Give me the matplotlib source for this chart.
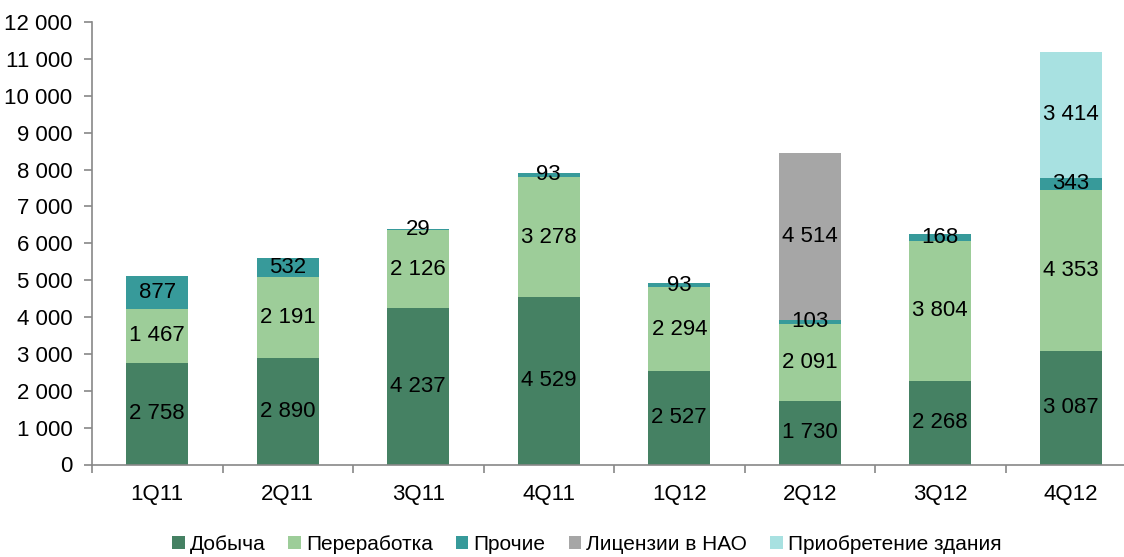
import numpy as np
import matplotlib
matplotlib.use("Agg")
import matplotlib.pyplot as plt

plt.rcParams['font.family'] = ['Liberation Sans Narrow', 'Liberation Sans', 'DejaVu Sans']

quarters = ["1Q11", "2Q11", "3Q11", "4Q11", "1Q12", "2Q12", "3Q12", "4Q12"]
dobycha = [2758, 2890, 4237, 4529, 2527, 1730, 2268, 3087]
pererabotka = [1467, 2191, 2126, 3278, 2294, 2091, 3804, 4353]
prochie = [877, 532, 29, 93, 93, 103, 168, 343]
licenzii = [0, 0, 0, 0, 0, 4514, 0, 0]
zdanie = [0, 0, 0, 0, 0, 0, 0, 3414]

series = [
    ("Добыча", dobycha, "#458163"),
    ("Переработка", pererabotka, "#9dcd99"),
    ("Прочие", prochie, "#379a9a"),
    ("Лицензии в НАО", licenzii, "#a6a6a6"),
    ("Приобретение здания", zdanie, "#a8e1e1"),
]


def fmt(v):
    return f"{v:,}".replace(",", " ")


fig = plt.figure(figsize=(11.24, 5.57), dpi=100)
ax = fig.add_axes([92 / 1124, 92.5 / 557, 1044 / 1124, 442.5 / 557])

x = np.arange(len(quarters))
bottom = np.zeros(len(quarters))
for name, vals, color in series:
    vals = np.array(vals, dtype=float)
    ax.bar(x, vals, 0.475, bottom=bottom, color=color, label=name, zorder=2)
    for xi, b, v in zip(x, bottom, vals):
        if v > 0:
            ax.text(xi, b + v / 2, fmt(int(v)), ha="center", va="center",
                    fontsize=16, color="black", zorder=3)
    bottom += vals

ax.set_xlim(-0.5, len(quarters) - 0.5)
ax.set_ylim(0, 12000)
ax.set_yticks(np.arange(0, 12001, 1000))
ax.set_yticklabels([fmt(v) for v in range(0, 12001, 1000)])

# boundaries between quarters get the tick marks, centres get the labels
ax.set_xticks(np.arange(-0.5, len(quarters), 1.0))
ax.set_xticklabels([])
ax.set_xticks(x, minor=True)
ax.set_xticklabels(quarters, minor=True)
ax.tick_params(axis="x", which="minor", length=0, pad=14, labelsize=16)
ax.tick_params(axis="x", which="major", length=6, color="#888888", width=1.2)
ax.tick_params(axis="y", length=6, color="#888888", width=1.2, labelsize=16, pad=8)

for side in ("top", "right"):
    ax.spines[side].set_visible(False)
for side in ("left", "bottom"):
    ax.spines[side].set_color("#888888")
    ax.spines[side].set_linewidth(1.2)

fig.legend(loc="lower center", bbox_to_anchor=(0.522, -0.028), ncol=5, frameon=False,
           fontsize=15, handlelength=0.6, handleheight=0.6, handletextpad=0.25,
           columnspacing=1.1)

fig.savefig("out.png", dpi=100)
